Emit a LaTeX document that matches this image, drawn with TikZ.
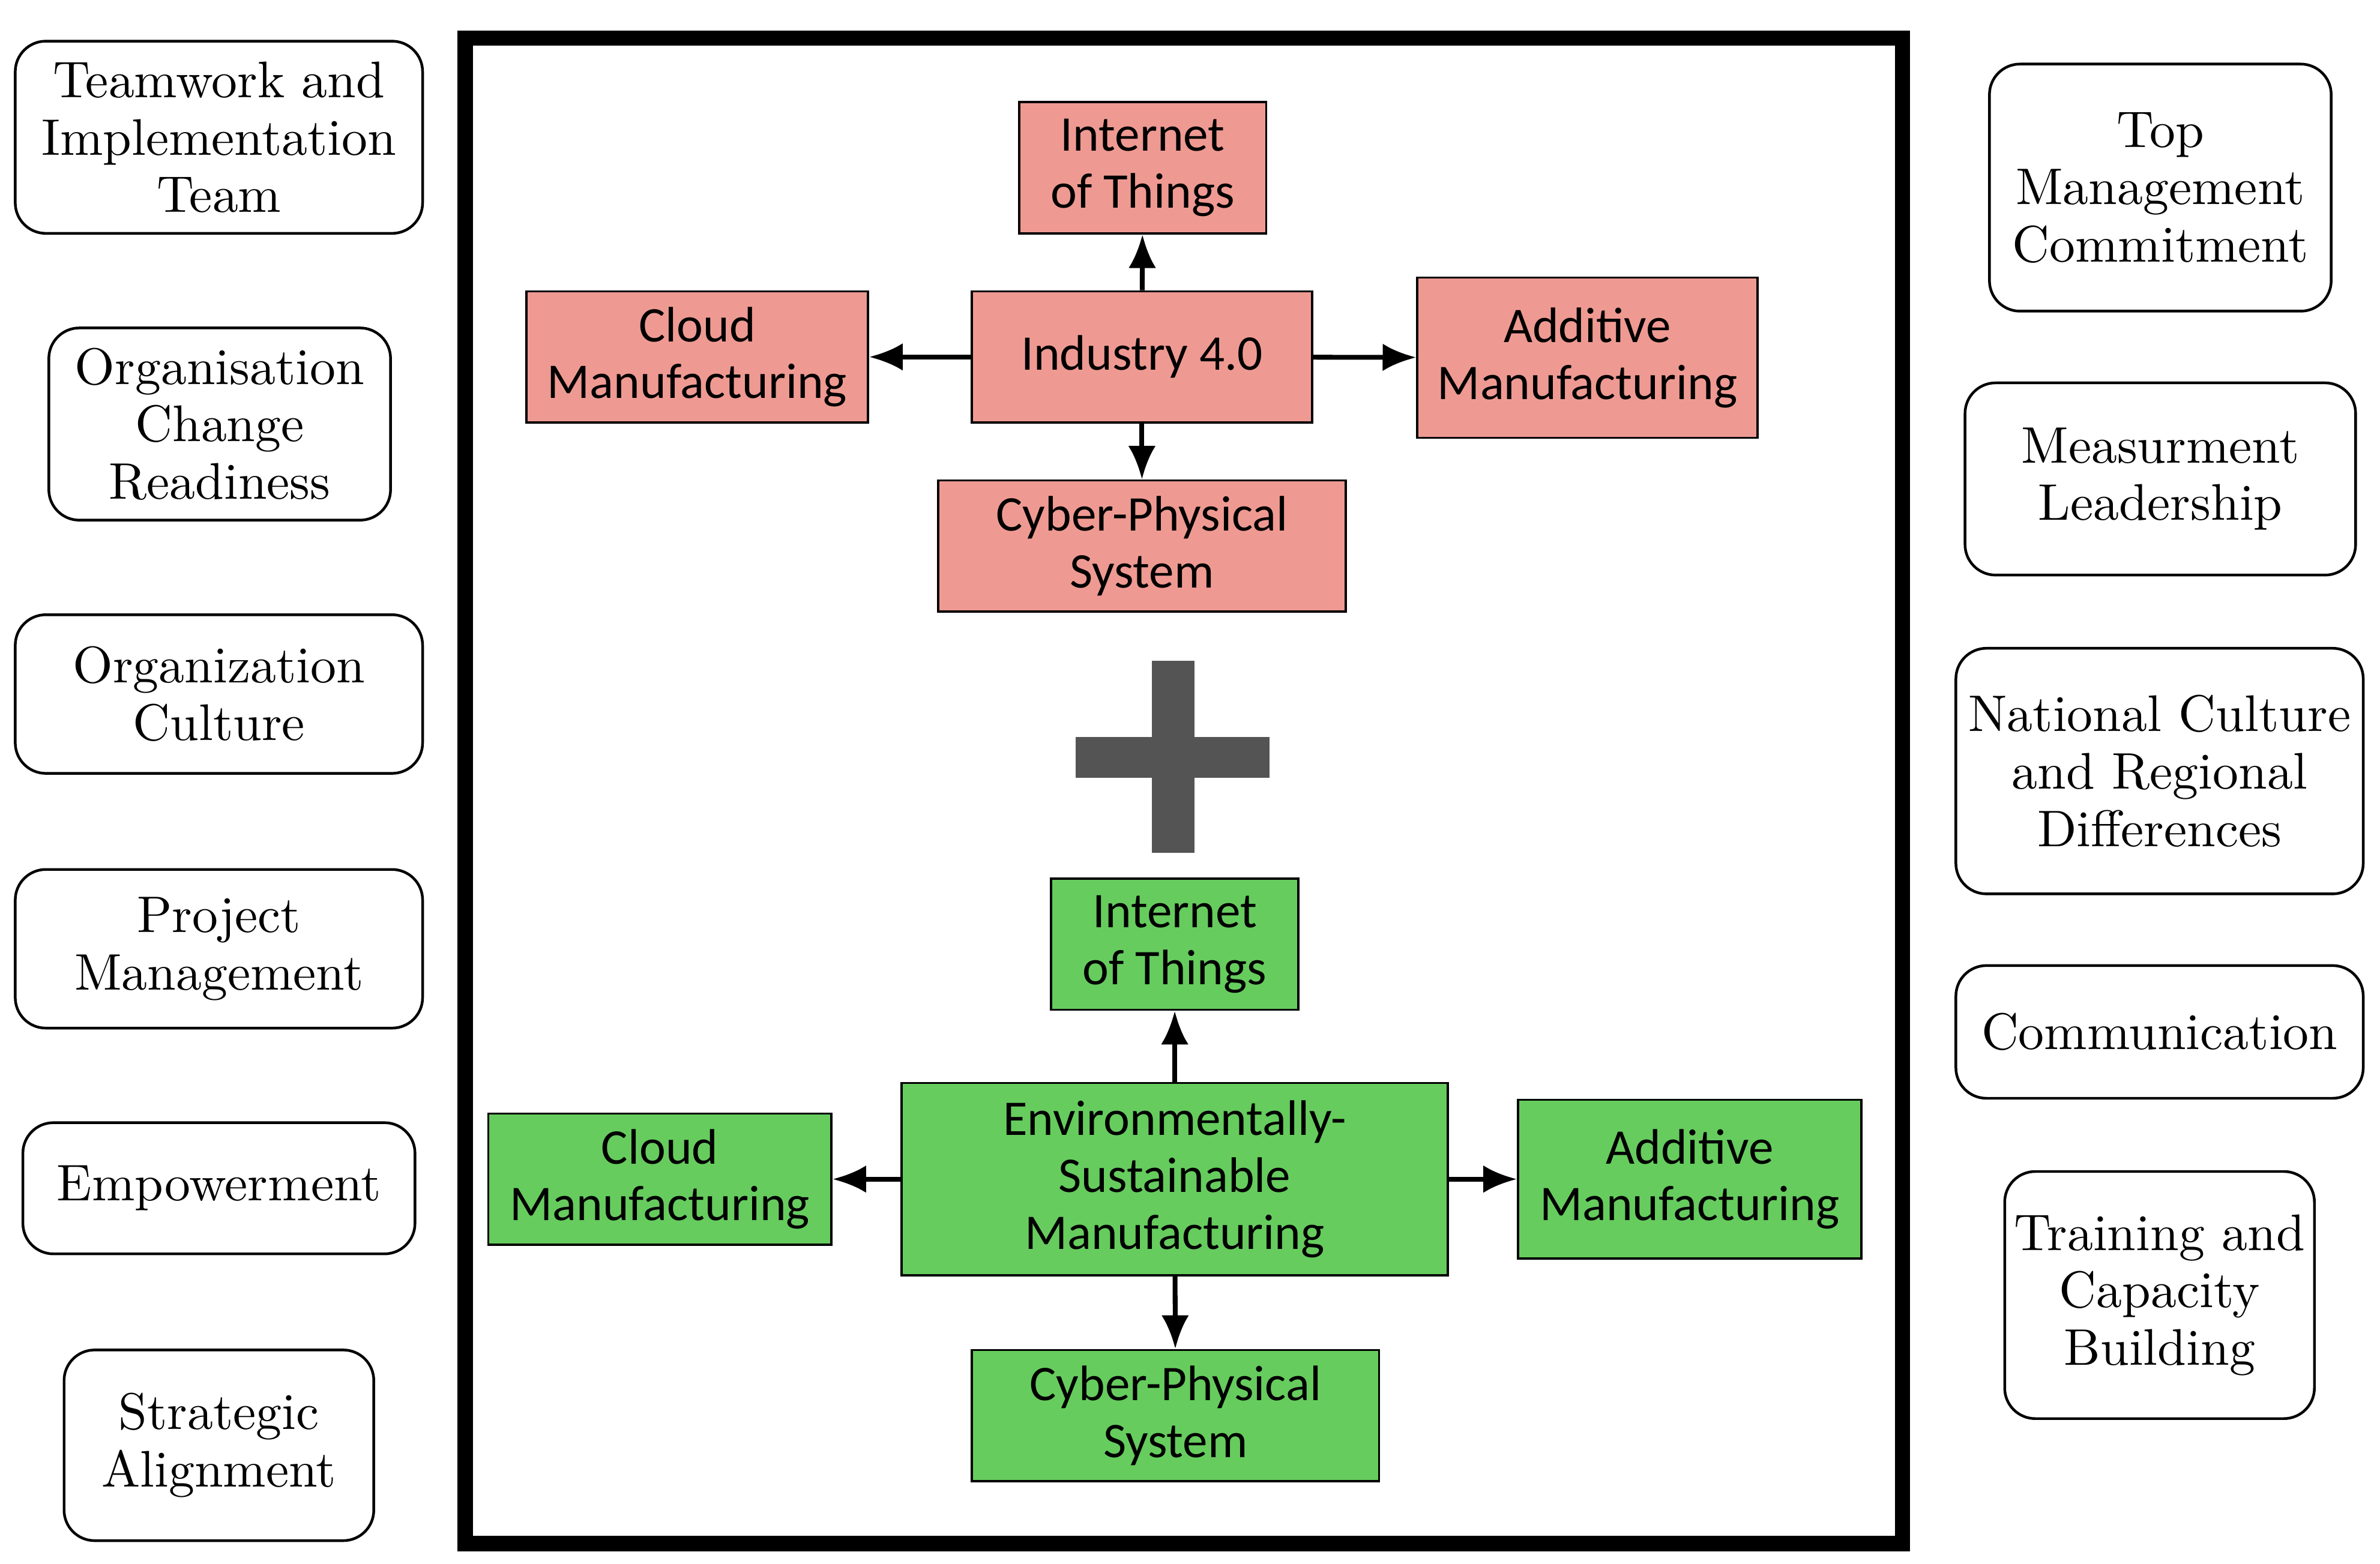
\documentclass[tikz,border=0pt]{standalone}
\usepackage{fontspec}
\newfontfamily\carl{Carlito}
\usetikzlibrary{arrows.meta}
\definecolor{rd}{HTML}{EE9A92}
\definecolor{gn}{HTML}{66CC5E}
\begin{document}
\begin{tikzpicture}[x=0.01cm,y=-0.01cm,
 side/.style={draw=black,rounded corners=0.2cm,line width=0.5pt,align=center,inner sep=0pt,font=\fontsize{9.6}{10.7}\selectfont},
 inner/.style={draw=black,line width=0.4pt,align=center,inner sep=0pt,font=\carl\fontsize{9.3}{10.6}\selectfont},
 ar/.style={-{Latex[length=0.22cm,width=0.18cm]},line width=0.9pt}]
\useasboundingbox (0,0) rectangle (1560,1025);
\draw[line width=0.1cm] (305,25) rectangle (1247,1012);
\newcommand{\bx}[7]{\node[#1,minimum width={(#5-#3)*0.01cm},minimum height={(#6-#4)*0.01cm}] (#2) at ({(#3+#5)/2},{(#4+#6)/2}) {#7};}
% left
\bx{side}{l1}{10}{27}{277}{153}{Teamwork and\\Implementation\\Team}
\bx{side}{l2}{32}{215}{256}{341}{Organisation\\Change\\Readiness}
\bx{side}{l3}{10}{403}{277}{507}{Organization\\Culture}
\bx{side}{l4}{10}{570}{277}{674}{Project\\Management}
\bx{side}{l5}{15}{736}{272}{822}{Empowerment}
\bx{side}{l6}{42}{885}{245}{1010}{Strategic\\Alignment}
% right
\bx{side}{r1}{1304}{42}{1528}{204}{Top\\Management\\Commitment}
\bx{side}{r2}{1288}{251}{1544}{377}{Measurment\\Leadership}
\bx{side}{r3}{1282}{425}{1549}{586}{National Culture\\and Regional\\Differences}
\bx{side}{r4}{1282}{633}{1549}{720}{Communication}
\bx{side}{r5}{1314}{768}{1517}{930}{Training and\\Capacity\\Building}
% red
\bx{inner,fill=rd}{aiot}{668}{67}{830}{153}{Internet\\of Things}
\bx{inner,fill=rd}{acl}{345}{191}{569}{277}{Cloud\\Manufacturing}
\bx{inner,fill=rd}{aind}{637}{191}{860}{277}{Industry 4.0}
\bx{inner,fill=rd}{aadd}{929}{182}{1152}{287}{Additive\\Manufacturing}
\bx{inner,fill=rd}{acps}{615}{315}{882}{401}{Cyber-Physical\\System}
\draw[ar] (aind) -- (aiot);
\draw[ar] (aind) -- (acl);
\draw[ar] (aind) -- (aadd);
\draw[ar] (aind) -- (acps);
% plus
\fill[black!67] (755,433) rectangle (783,559);
\fill[black!67] (705,483) rectangle (832,510);
% green
\bx{inner,fill=gn}{biot}{689}{576}{851}{662}{Internet\\of Things}
\bx{inner,fill=gn}{besm}{591}{710}{949}{836}{Environmentally-\\Sustainable\\Manufacturing}
\bx{inner,fill=gn}{bcl}{320}{730}{545}{816}{Cloud\\Manufacturing}
\bx{inner,fill=gn}{badd}{995}{721}{1220}{825}{Additive\\Manufacturing}
\bx{inner,fill=gn}{bcps}{637}{885}{904}{971}{Cyber-Physical\\System}
\draw[ar] (besm) -- (biot);
\draw[ar] (besm.west|-bcl) -- (bcl);
\draw[ar] (besm.east|-bcl) -- (badd.west|-bcl);
\draw[ar] (besm) -- (bcps);
\end{tikzpicture}
\end{document}
